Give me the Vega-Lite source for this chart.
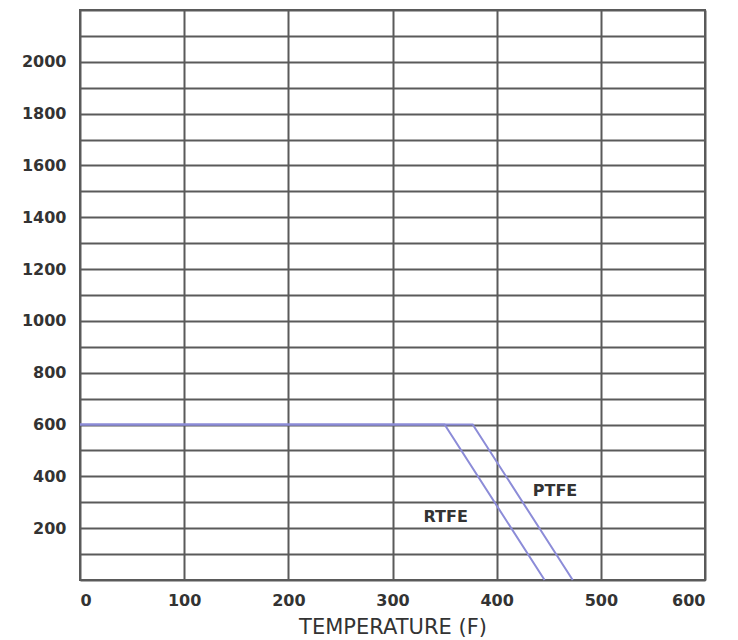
{
  "$schema": "https://vega.github.io/schema/vega-lite/v6.json",
  "description": "Pressure vs temperature rating for RTFE and PTFE seats.",
  "autosize": "none",
  "width": 625,
  "height": 570,
  "padding": {"left": 80, "top": 10, "right": 33, "bottom": 60},
  "background": "white",
  "datasets": {
    "curves": [
      {"material": "RTFE", "temp": 0, "pressure": 600},
      {"material": "RTFE", "temp": 350, "pressure": 600},
      {"material": "RTFE", "temp": 446, "pressure": 0},
      {"material": "PTFE", "temp": 0, "pressure": 600},
      {"material": "PTFE", "temp": 377, "pressure": 600},
      {"material": "PTFE", "temp": 473, "pressure": 0}
    ],
    "labels": [
      {"label": "PTFE", "temp": 456, "pressure": 343},
      {"label": "RTFE", "temp": 351, "pressure": 243}
    ]
  },
  "encoding": {
    "x": {
      "field": "temp",
      "type": "quantitative",
      "scale": {"domain": [0, 600], "nice": false},
      "axis": {
        "title": "TEMPERATURE (F)",
        "values": [0, 100, 200, 300, 400, 500, 600],
        "grid": true,
        "ticks": false,
        "domain": false,
        "labelPadding": 12,
        "titlePadding": 8
      }
    },
    "y": {
      "field": "pressure",
      "type": "quantitative",
      "scale": {"domain": [0, 2200], "nice": false},
      "axis": {
        "title": null,
        "values": [0, 100, 200, 300, 400, 500, 600, 700, 800, 900, 1000, 1100, 1200, 1300, 1400, 1500, 1600, 1700, 1800, 1900, 2000, 2100, 2200],
        "labelExpr": "datum.value % 200 == 0 && datum.value > 0 && datum.value <= 2000 ? datum.label : ''",
        "format": "d",
        "grid": true,
        "ticks": false,
        "domain": false,
        "labelPadding": 14
      }
    }
  },
  "layer": [
    {
      "data": {"name": "curves"},
      "mark": {"type": "line", "color": "#8c8cd8", "strokeWidth": 2},
      "encoding": {
        "detail": {"field": "material", "type": "nominal"},
        "order": {"field": "temp", "type": "quantitative"}
      }
    },
    {
      "data": {"name": "labels"},
      "mark": {
        "type": "text",
        "font": "DejaVu Sans",
        "fontSize": 16,
        "fontWeight": "bold",
        "color": "#333333"
      },
      "encoding": {
        "text": {"field": "label", "type": "nominal"}
      }
    }
  ],
  "config": {
    "view": {"stroke": "#5a5a5a", "strokeWidth": 2},
    "axis": {
      "gridColor": "#5a5a5a",
      "gridWidth": 2,
      "gridOpacity": 1,
      "labelFont": "DejaVu Sans",
      "labelFontSize": 16,
      "labelFontWeight": "bold",
      "labelColor": "#333333",
      "titleFont": "DejaVu Sans",
      "titleFontSize": 21,
      "titleFontWeight": "normal",
      "titleColor": "#333333"
    }
  }
}
